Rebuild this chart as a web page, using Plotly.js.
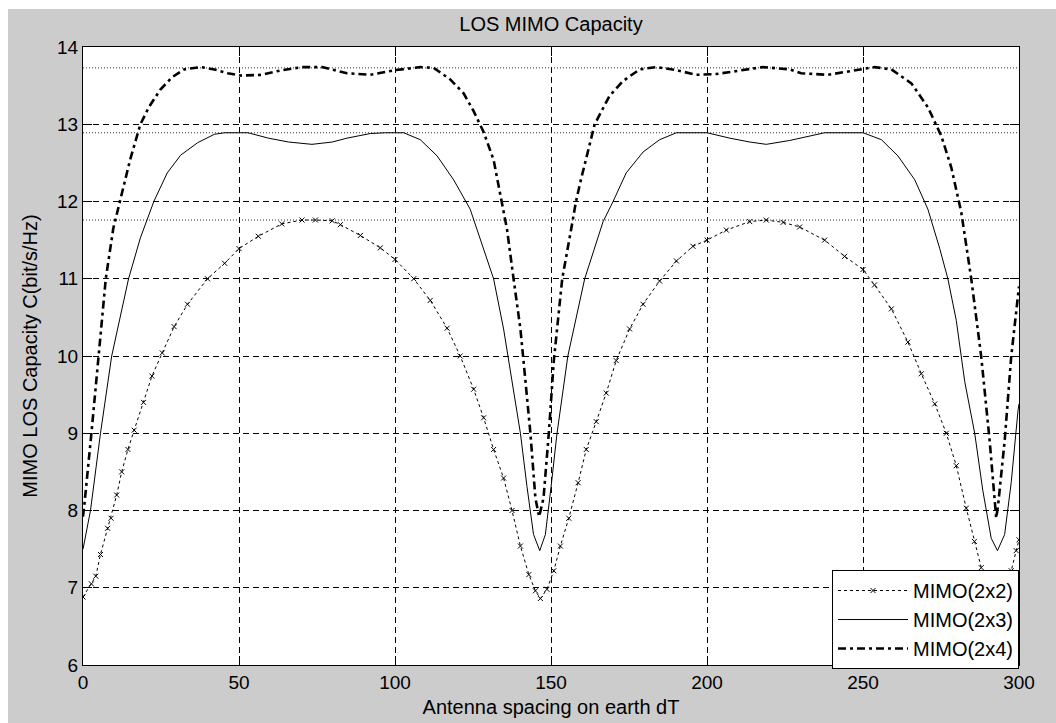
<!DOCTYPE html>
<html>
<head>
<meta charset="utf-8">
<script src="https://cdn.plot.ly/plotly-3.0.1.min.js"></script>
<style>
  html, body { margin: 0; padding: 0; background: #ffffff; }
  #chart { position: absolute; left: 8px; top: 9px; width: 1048px; height: 714px; }
</style>
</head>
<body>
<div id="chart"></div>
<script>
// ---- Data ----
const titleText = "LOS MIMO Capacity";
const xTitle = "Antenna spacing on earth dT";
const yTitle = "MIMO LOS Capacity C(bit/s/Hz)";
const seriesNames = ["MIMO(2x2)", "MIMO(2x3)", "MIMO(2x4)"];

const xRange = [0, 300];
const yRange = [6, 14];
const xTicks = [0, 50, 100, 150, 200, 250, 300];
const yTicks = [6, 7, 8, 9, 10, 11, 12, 13, 14];
const maxLevels = [13.73, 12.89, 11.76];

const x2x2 = [0, 2.7, 4.1, 5.6, 7.9, 9, 10.8, 12.4, 14.4, 16.4, 19.4, 22.1, 25.4, 29.2, 33.5, 39.9, 45.4, 50, 56.2, 63.7, 70.2, 74.5, 79.9, 82.5, 88.9, 95.3, 100, 106, 111.3, 116.7, 120.9, 125.2, 128.4, 131.6, 134.8, 137.5, 140.2, 142.9, 145, 146.6, 148.7, 150.9, 153, 155.7, 158.7, 161.3, 164.5, 167.7, 170.9, 175.2, 179.5, 184.8, 190.2, 195.5, 200, 206.2, 213.7, 219, 224.4, 229.7, 237.7, 244.1, 250, 253.7, 259.1, 264.4, 268.7, 273, 276.7, 279.9, 283.1, 285.7, 287.9, 290, 292, 294, 297.5, 299.1, 300];
const y2x2 = [6.88, 7.05, 7.15, 7.43, 7.77, 7.9, 8.2, 8.5, 8.79, 9.04, 9.4, 9.74, 10.04, 10.38, 10.67, 11.0, 11.2, 11.39, 11.55, 11.71, 11.76, 11.76, 11.75, 11.70, 11.56, 11.40, 11.25, 11.0, 10.72, 10.36, 10.0, 9.57, 9.2, 8.79, 8.42, 8.0, 7.54, 7.17, 6.96, 6.86, 6.98, 7.22, 7.54, 7.9, 8.36, 8.79, 9.15, 9.52, 9.94, 10.35, 10.67, 10.97, 11.23, 11.42, 11.5, 11.63, 11.74, 11.76, 11.73, 11.67, 11.5, 11.29, 11.12, 10.92, 10.61, 10.18, 9.77, 9.38, 9.0, 8.58, 8.03, 7.6, 7.26, 6.98, 6.86, 6.95, 7.22, 7.48, 7.62];

const x2x3 = [0, 2.4, 5.6, 9.2, 14.6, 18.4, 22.7, 27, 31.3, 36.7, 42.1, 45.4, 52.9, 59.4, 65.9, 73.4, 79.9, 84.6, 92.1, 97, 102.8, 108.1, 113.5, 118.8, 124.1, 128.4, 131.6, 134.8, 137.5, 140.2, 142.3, 144.4, 146.4, 148.2, 150, 151.9, 155.4, 160.8, 166.7, 169.9, 174.1, 179.5, 184.8, 190.2, 200, 207.3, 213.7, 219, 226.5, 230.2, 237.7, 243, 250, 255.9, 261.2, 266.6, 270.8, 274.6, 277.2, 279.9, 282.6, 285.8, 288.4, 291.1, 293.1, 295.4, 297.5, 299.7, 300];
const y2x3 = [7.5, 8.0, 9.0, 10.0, 11.0, 11.53, 12.0, 12.37, 12.6, 12.76, 12.87, 12.89, 12.89, 12.82, 12.77, 12.74, 12.77, 12.82, 12.88, 12.89, 12.89, 12.8, 12.59, 12.28, 11.9, 11.39, 11.0, 10.35, 9.67, 9.0, 8.31, 7.69, 7.48, 7.69, 8.3, 8.99, 10.0, 11.0, 11.74, 12.0, 12.37, 12.64, 12.8, 12.89, 12.89, 12.82, 12.77, 12.74, 12.79, 12.82, 12.89, 12.89, 12.89, 12.8, 12.59, 12.28, 11.9, 11.39, 11.0, 10.46, 9.67, 9.0, 8.26, 7.64, 7.48, 7.69, 8.36, 9.3, 9.38];

const x2x4 = [0, 0.5, 2.7, 4.9, 7.3, 9.7, 11.9, 15.1, 18.4, 21.1, 24.8, 28.6, 32.4, 37.8, 42.1, 46.4, 50.8, 57.2, 63.7, 70.2, 76.7, 84.6, 92.1, 100, 108.1, 112.4, 117.7, 122, 125.2, 128.4, 131.6, 134.3, 135.9, 138, 140.2, 141.8, 143.4, 145, 146.2, 147.6, 149.3, 150.9, 153.6, 156.5, 158, 159.7, 164, 168.8, 173.1, 178.4, 183.8, 190.2, 196.6, 203, 209.4, 217.9, 226.5, 230.2, 238.8, 247.3, 253.7, 259.1, 265.5, 270.8, 275.1, 278.3, 281.5, 284.7, 287.9, 290.6, 292.2, 292.7, 293.3, 295.4, 297.5, 299.7, 300];
const y2x4 = [7.92, 8.1, 9.0, 9.99, 11.0, 11.65, 12.0, 12.54, 13.0, 13.22, 13.45, 13.61, 13.71, 13.74, 13.71, 13.66, 13.63, 13.64, 13.70, 13.74, 13.74, 13.66, 13.64, 13.70, 13.74, 13.73, 13.58, 13.4, 13.17, 12.9, 12.54, 12.0, 11.64, 11.0, 10.35, 9.68, 9.0, 8.16, 7.92, 8.16, 9.0, 9.94, 11.0, 11.65, 12.0, 12.3, 13.0, 13.37, 13.56, 13.71, 13.74, 13.70, 13.64, 13.65, 13.69, 13.74, 13.71, 13.66, 13.64, 13.70, 13.74, 13.71, 13.53, 13.22, 12.85, 12.44, 11.86, 11.0, 9.99, 8.9, 8.07, 7.9, 8.07, 8.9, 9.99, 10.87, 10.9];

// ---- Traces ----
const traces = [
  {
    x: x2x2, y: y2x2, name: seriesNames[0], type: "scatter", mode: "lines+markers",
    line: { color: "black", width: 1, dash: "dot" },
    marker: { symbol: "x-thin-open", size: 5, color: "black", line: { color: "black", width: 1 } },
    legendgroup: "a"
  },
  {
    x: x2x3, y: y2x3, name: seriesNames[1], type: "scatter", mode: "lines",
    line: { color: "black", width: 1 },
    legendgroup: "b"
  },
  {
    x: x2x4, y: y2x4, name: seriesNames[2], type: "scatter", mode: "lines",
    line: { color: "black", width: 2.6, dash: "8px,4px,3px,4px" },
    legendgroup: "c"
  }
];

const shapes = maxLevels.map(v => ({
  type: "line", xref: "x", yref: "y",
  x0: xRange[0], x1: xRange[1], y0: v, y1: v,
  line: { color: "#333333", width: 1, dash: "1px,2px" },
  layer: "below"
}));

const axisCommon = {
  ticks: "inside", ticklen: 9, tickcolor: "black", tickwidth: 1,
  showline: true, linecolor: "black", linewidth: 1, mirror: "ticks",
  showgrid: true, gridcolor: "black", gridwidth: 1, griddash: "6px,4px",
  zeroline: false, automargin: false,
  tickfont: { size: 19, color: "black" }
};

const layout = {
  width: 1048, height: 714, autosize: false,
  margin: { l: 75, r: 37, t: 38, b: 58, pad: 0 },
  paper_bgcolor: "#cccccc", plot_bgcolor: "#ffffff",
  font: { family: "Liberation Sans, Arial, sans-serif", size: 20, color: "black" },
  title: {
    text: titleText, x: 0.5, xref: "paper", xanchor: "center",
    y: 1 - 15 / 714, yref: "container", yanchor: "middle",
    font: { size: 20, color: "black" }
  },
  xaxis: Object.assign({}, axisCommon, {
    range: xRange, tickmode: "array", tickvals: xTicks, ticktext: xTicks.map(String),
    title: { text: xTitle, standoff: 8, font: { size: 20, color: "black" } }
  }),
  yaxis: Object.assign({}, axisCommon, {
    range: yRange, tickmode: "array", tickvals: yTicks, ticktext: yTicks.map(String),
    title: { text: yTitle, standoff: 14, font: { size: 20, color: "black" } }
  }),
  shapes: shapes,
  showlegend: true,
  legend: {
    x: 1, xanchor: "right", xref: "paper",
    y: -0.0065, yanchor: "bottom", yref: "paper",
    bgcolor: "#ffffff", bordercolor: "black", borderwidth: 1,
    font: { size: 20, color: "black" },
    traceorder: "grouped", tracegroupgap: 0,
    itemwidth: 70, itemclick: false
  }
};

Plotly.newPlot("chart", traces, layout, { staticPlot: true, displayModeBar: false });
</script>
</body>
</html>
